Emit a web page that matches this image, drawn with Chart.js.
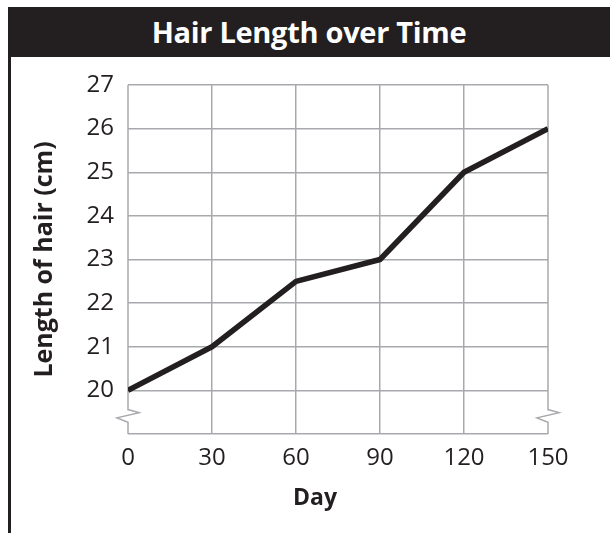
<!DOCTYPE html>
<html lang="en">
<head>
    <meta charset="UTF-8">
    <title>Hair Length over Time</title>
    <style>
        body { margin: 0; background: #fff; }
        #frame { position: relative; width: 610px; height: 533px; overflow: hidden; }
        #titulo {
            position: absolute; left: 8px; top: 7px; width: 602px; height: 50px;
            background: #231f20; color: #fff;
            font: bold 29px "Open Sans", sans-serif;
            line-height: 50px; text-align: center; letter-spacing: -0.3px;
        }
        #borde { position: absolute; left: 8px; top: 7px; width: 3px; height: 526px; background: #231f20; }
        #dia {
            position: absolute; left: 265px; width: 100px; top: 480px;
            text-align: center; color: #231f20;
            font: bold 23px "Open Sans", sans-serif;
        }
        #myChart { position: absolute; left: 0; top: 0; }
    </style>
</head>
<body>
<div id="frame">
    <div id="borde"></div>
    <div id="titulo">Hair Length over Time</div>
    <canvas id="myChart" width="610" height="533"></canvas>
    <div id="dia">Day</div>
</div>
<script src="https://cdn.jsdelivr.net/npm/chart.js@4.4.0/dist/chart.umd.min.js"></script>
<script>
    // datos
    var dias = [0, 30, 60, 90, 120, 150];
    var largo = [20, 21, 22.5, 23, 25, 26];
    var yMin = 19, yMax = 27;   // 19 is the axis break row, no label
    var xMin = 0, xMax = 150;

    var negro = '#231f20';
    var gris = '#a7a9ac';

    // left and right axis lines with the zigzag break below 20
    var ejesQuebrados = {
        id: 'ejesQuebrados',
        beforeDatasetsDraw: function(chart) {
            var ctx = chart.ctx;
            var x = chart.scales.x, y = chart.scales.y;
            var top = y.getPixelForValue(yMax);
            var bot = y.getPixelForValue(yMin);
            var u = bot - y.getPixelForValue(20);
            [x.getPixelForValue(xMin), x.getPixelForValue(xMax)].forEach(function(px) {
                ctx.save();
                ctx.strokeStyle = gris;
                ctx.lineWidth = 1.5;
                ctx.beginPath();
                ctx.moveTo(px, top);
                ctx.lineTo(px, bot - u * 0.56);
                ctx.lineTo(px + 11, bot - u * 0.49);
                ctx.lineTo(px - 11, bot - u * 0.37);
                ctx.lineTo(px, bot - u * 0.27);
                ctx.lineTo(px, bot);
                ctx.stroke();
                ctx.restore();
            });
        }
    };

    var ctx = document.getElementById('myChart').getContext('2d');
    var myChart = new Chart(ctx, {
        type: 'line',
        data: {
            datasets: [{
                data: dias.map(function(d, i) { return {x: d, y: largo[i]}; }),
                borderColor: negro,
                borderWidth: 5.5,
                pointRadius: 0,
                tension: 0,
                borderJoinStyle: 'round',
                borderCapStyle: 'butt'
            }]
        },
        options: {
            responsive: false,
            animation: false,
            layout: { padding: { left: 0, top: 85, right: 62, bottom: 19 } },
            plugins: { legend: { display: false }, tooltip: { enabled: false } },
            scales: {
                x: {
                    type: 'linear',
                    min: xMin, max: xMax,
                    afterFit: function(s) { s.height = 80; },
                    border: { display: false },
                    grid: {
                        drawTicks: false,
                        lineWidth: 1.5,
                        color: function(c) {
                            return (c.tick && (c.tick.value === xMin || c.tick.value === xMax)) ? 'rgba(0,0,0,0)' : gris;
                        }
                    },
                    ticks: {
                        stepSize: 30,
                        padding: 10,
                        color: negro,
                        font: { family: 'Open Sans', size: 24 }
                    }
                },
                y: {
                    min: yMin, max: yMax,
                    afterFit: function(s) { s.width = 128; },
                    border: { display: false },
                    grid: { drawTicks: false, lineWidth: 1.5, color: gris },
                    ticks: {
                        stepSize: 1,
                        padding: 14,
                        color: negro,
                        font: { family: 'Open Sans', size: 24 },
                        callback: function(v) { return v === yMin ? '' : v; }
                    },
                    title: {
                        display: true,
                        text: 'Length of hair (cm)',
                        color: negro,
                        padding: { top: 30, bottom: 0 },
                        font: { family: 'Open Sans', size: 25, weight: 'bold' }
                    }
                }
            }
        },
        plugins: [ejesQuebrados]
    });
</script>
</body>
</html>
